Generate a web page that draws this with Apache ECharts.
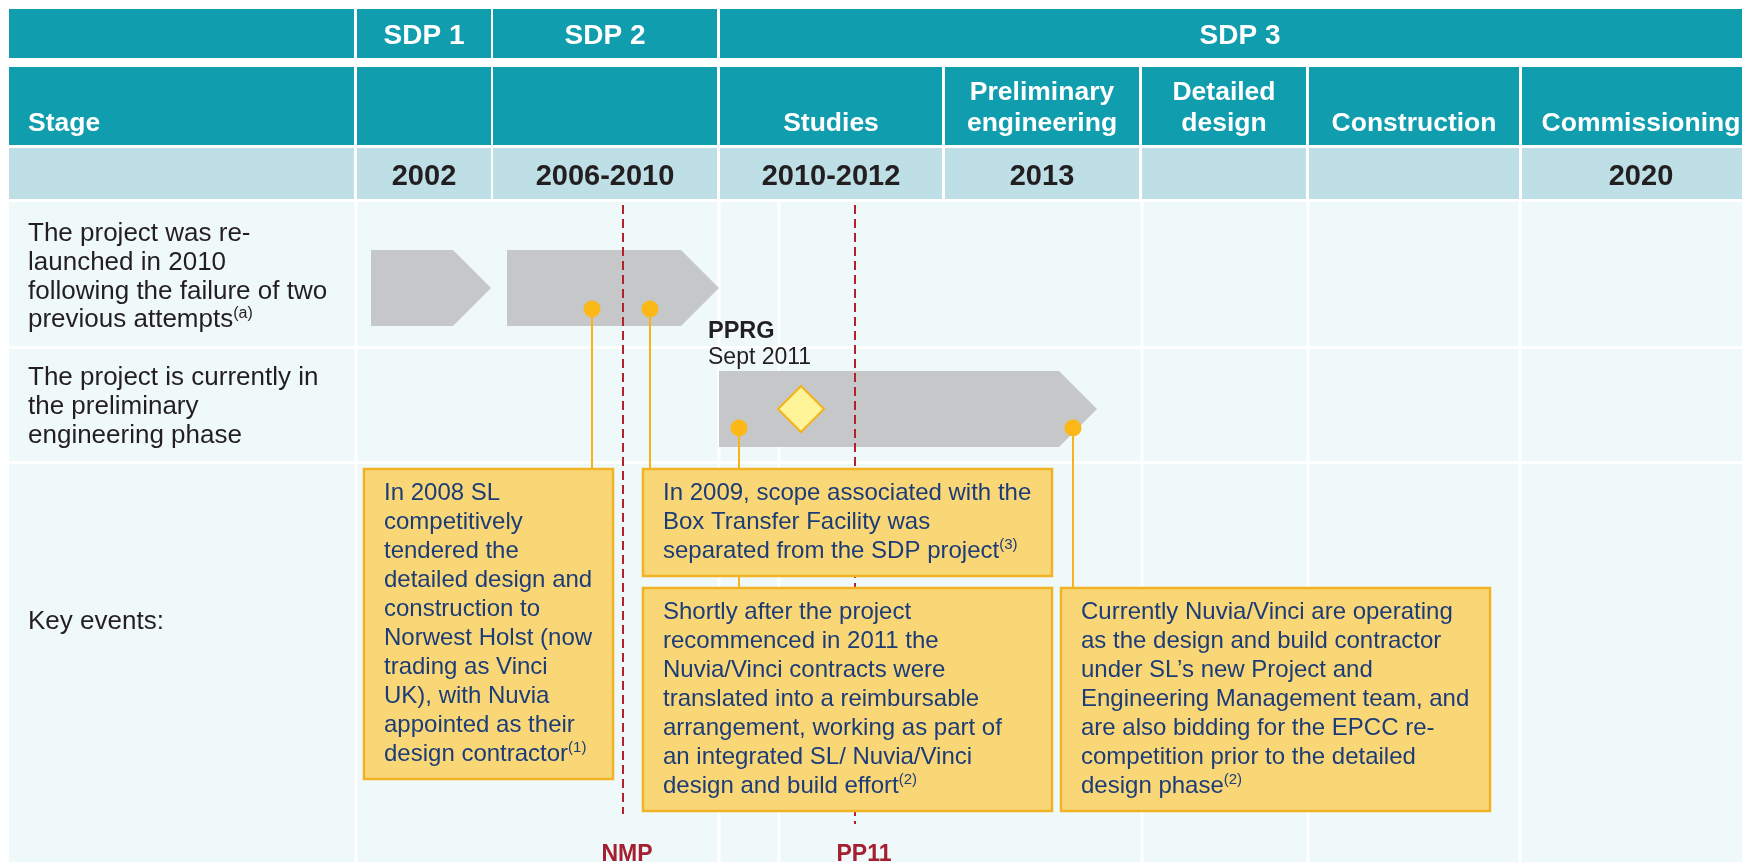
<!DOCTYPE html>
<html>
<head>
<meta charset="utf-8">
<script src="https://cdn.jsdelivr.net/npm/echarts@6/dist/echarts.min.js"></script>
<style>
    html, body { margin: 0; padding: 0; background: #fff; }
    #chart { width: 1742px; height: 862px; }
</style>
</head>
<body>
<div id="chart"></div>
<script>
var labelSpan = [9, 354];

var sdpNames = ['SDP 1', 'SDP 2', 'SDP 3'];
var sdpSpans = [[357, 491], [493, 717], [720, 1760]];

var stageNames = ['', '', 'Studies', 'Preliminary\nengineering', 'Detailed\ndesign', 'Construction', 'Commissioning'];
var stageSpans = [[357, 491], [493, 717], [720, 942], [945, 1139], [1142, 1306], [1309, 1519], [1522, 1760]];
var stageYears = ['2002', '2006-2010', '2010-2012', '2013', '', '', '2020'];

var headerRows = [[9, 58], [67, 145], [148, 199]];
var bodyRows = [[202, 346], [349, 461], [464, 870]];
var bodyDividers = [356, 719, 779, 1142, 1308, 1520];

var rowLabels = [
    'The project was re-\nlaunched in 2010\nfollowing the failure of two\nprevious attempts{sup|(a)}',
    'The project is currently in\nthe preliminary\nengineering phase',
    'Key events:'
];
var rowLabelY = [277, 407, 622];

// grey phase chevrons
var phaseStart = [371, 507, 719];
var phaseEnd = [491, 719, 1097];
var phaseY = [288, 288, 409];

// review gates (dashed)
var gateNames = ['NMP', 'PP11'];
var gateX = [623, 855];
var gateTop = [205, 205];
var gateBottom = [814, 824];
var gateLabelX = [627, 864];

// PPRG milestone
var milestoneName = 'PPRG';
var milestoneDate = 'Sept 2011';
var milestoneX = [801];
var milestoneY = [409];
var milestoneLabelX = [708];
var milestoneLabelY = [319];

// key events: dot on the timeline -> callout box
var eventX = [592, 650, 739, 1073];
var eventY = [309, 309, 428, 428];
var eventBox = [0, 1, 2, 3];

var calloutLeft = [364, 643, 643, 1061];
var calloutRight = [613, 1052, 1052, 1490];
var calloutTop = [469, 469, 588, 588];
var calloutBottom = [779, 576, 811, 811];
var calloutTexts = [
    'In 2008 SL\ncompetitively\ntendered the\ndetailed design and\nconstruction to\nNorwest Holst (now\ntrading as Vinci\nUK), with Nuvia\nappointed as their\ndesign contractor{sup|(1)}',
    'In 2009, scope associated with the\nBox Transfer Facility was\nseparated from the SDP project{sup|(3)}',
    'Shortly after the project\nrecommenced in 2011 the\nNuvia/Vinci contracts were\ntranslated into a reimbursable\narrangement, working as part of\nan integrated SL/ Nuvia/Vinci\ndesign and build effort{sup|(2)}',
    'Currently Nuvia/Vinci are operating\nas the design and build contractor\nunder SL\u2019s new Project and\nEngineering Management team, and\nare also bidding for the EPCC re-\ncompetition prior to the detailed\ndesign phase{sup|(2)}'
];

var FONT = '"Liberation Sans", Arial, sans-serif';
var TEAL = '#109dae';

// build the header table from the arrays above
var headerCells = [], headerTexts = [], headerKinds = [];
function addHeaderRow(row, leftText, leftKind, spans, texts, kind) {
    headerCells.push([labelSpan[0], labelSpan[1], row[0], row[1]]);
    headerTexts.push(leftText);
    headerKinds.push(leftKind);
    spans.forEach(function (s, i) {
        headerCells.push([s[0], s[1], row[0], row[1]]);
        headerTexts.push(texts[i]);
        headerKinds.push(kind);
    });
}
addHeaderRow(headerRows[0], '', 'sdp', sdpSpans, sdpNames, 'sdp');
addHeaderRow(headerRows[1], 'Stage', 'stageLeft', stageSpans, stageNames, 'stage');
addHeaderRow(headerRows[2], '', 'year', stageSpans, stageYears, 'year');

function rectOf(api, x0, x1, y0, y1) {
    var a = api.coord([x0, y0]);
    var b = api.coord([x1, y1]);
    return {
        x: Math.min(a[0], b[0]),
        y: Math.min(a[1], b[1]),
        width: Math.abs(b[0] - a[0]),
        height: Math.abs(b[1] - a[1])
    };
}

function renderHeader(params, api) {
    var r = rectOf(api, api.value(0), api.value(1), api.value(2), api.value(3));
    var kind = headerKinds[params.dataIndex];
    var txt = headerTexts[params.dataIndex];
    var children = [{type: 'rect', shape: r, style: {fill: kind === 'year' ? '#bddfe5' : TEAL}}];
    if (txt) {
        var st = {text: txt, fontFamily: FONT, fontWeight: 'bold', fill: '#ffffff'};
        var t = {type: 'text', style: st};
        if (kind === 'sdp') {
            t.x = r.x + r.width / 2;
            t.y = r.y + r.height / 2 + 3;
            st.fontSize = 28;
            st.align = 'center';
            st.verticalAlign = 'middle';
        } else if (kind === 'year') {
            t.x = r.x + r.width / 2;
            t.y = r.y + r.height / 2 + 3;
            st.fontSize = 29;
            st.fill = '#231f20';
            st.align = 'center';
            st.verticalAlign = 'middle';
        } else {
            t.x = kind === 'stageLeft' ? r.x + 19 : r.x + r.width / 2;
            t.y = r.y + r.height - 6;
            st.fontSize = 26.5;
            st.lineHeight = 31;
            st.align = kind === 'stageLeft' ? 'left' : 'center';
            st.verticalAlign = 'bottom';
        }
        children.push(t);
    }
    return {type: 'group', children: children};
}

function renderBody(params, api) {
    var r = rectOf(api, api.value(0), api.value(1), api.value(2), api.value(3));
    var p = api.coord([labelSpan[0], rowLabelY[params.dataIndex]]);
    return {
        type: 'group',
        children: [
            {type: 'rect', shape: r, style: {fill: '#f0f9f9'}},
            {
                type: 'text', x: p[0] + 19, y: p[1],
                style: {
                    text: rowLabels[params.dataIndex],
                    fontFamily: FONT, fontSize: 26, lineHeight: 28.7, fill: '#231f20',
                    align: 'left', verticalAlign: 'middle',
                    rich: {sup: {fontFamily: FONT, fontSize: 16, lineHeight: 20, fill: '#231f20', verticalAlign: 'top'}}
                }
            }
        ]
    };
}

function renderDivider(params, api) {
    var a = api.coord([api.value(0), bodyRows[0][0]]);
    var b = api.coord([api.value(0), bodyRows[bodyRows.length - 1][1]]);
    return {type: 'line', shape: {x1: a[0], y1: a[1], x2: b[0], y2: b[1]}, style: {stroke: '#ffffff', lineWidth: 3}};
}

function renderPhase(params, api) {
    var a = api.coord([api.value(0), api.value(2)]);
    var b = api.coord([api.value(1), api.value(2)]);
    var half = api.size([0, 38])[1];
    return {
        type: 'polygon',
        shape: {points: [
            [a[0], a[1] - half], [b[0] - half, a[1] - half], [b[0], a[1]],
            [b[0] - half, a[1] + half], [a[0], a[1] + half]
        ]},
        style: {fill: '#c6c7c9'}
    };
}

function renderGate(params, api) {
    var a = api.coord([api.value(0), api.value(1)]);
    var b = api.coord([api.value(0), api.value(2)]);
    var lab = api.coord([api.value(3), 855]);
    return {
        type: 'group',
        children: [
            {type: 'line', shape: {x1: a[0], y1: a[1], x2: b[0], y2: b[1]},
                style: {stroke: '#b3202e', lineWidth: 2, lineDash: [9, 5]}},
            {type: 'text', x: lab[0], y: lab[1],
                style: {text: gateNames[params.dataIndex], fontFamily: FONT, fontWeight: 'bold', fontSize: 23,
                    fill: '#a41f2f', align: 'center', verticalAlign: 'middle'}}
        ]
    };
}

function renderConnector(params, api) {
    var box = eventBox[params.dataIndex];
    var a = api.coord([api.value(0), api.value(1)]);
    var b = api.coord([api.value(0), calloutTop[box]]);
    return {type: 'line', shape: {x1: a[0], y1: a[1], x2: b[0], y2: b[1]}, style: {stroke: '#f6b41a', lineWidth: 2}};
}

function renderCallout(params, api) {
    var r = rectOf(api, api.value(0), api.value(1), api.value(2), api.value(3));
    return {
        type: 'group',
        children: [
            {type: 'rect', shape: r, style: {fill: '#f9d777', stroke: '#f1b226', lineWidth: 2.5}},
            {
                type: 'text', x: r.x + 20, y: r.y + 10,
                style: {
                    text: calloutTexts[params.dataIndex],
                    fontFamily: FONT, fontSize: 24, lineHeight: 29, fill: '#1c3c78',
                    align: 'left', verticalAlign: 'top',
                    rich: {sup: {fontFamily: FONT, fontSize: 15, lineHeight: 19, fill: '#1c3c78', verticalAlign: 'top'}}
                }
            }
        ]
    };
}

function renderDot(params, api) {
    var c = api.coord([api.value(0), api.value(1)]);
    return {type: 'circle', shape: {cx: c[0], cy: c[1], r: 8.5}, style: {fill: '#fbb817'}};
}

function renderMilestone(params, api) {
    var c = api.coord([api.value(0), api.value(1)]);
    var l = api.coord([api.value(2), api.value(3)]);
    var h = 23;
    return {
        type: 'group',
        children: [
            {type: 'polygon', shape: {points: [[c[0], c[1] - h], [c[0] + h, c[1]], [c[0], c[1] + h], [c[0] - h, c[1]]]},
                style: {fill: '#fff497', stroke: '#f5b21b', lineWidth: 2}},
            {type: 'text', x: l[0], y: l[1] + 1,
                style: {text: milestoneName, fontFamily: FONT, fontWeight: 'bold', fontSize: 23.5, fill: '#231f20',
                    align: 'left', verticalAlign: 'top'}},
            {type: 'text', x: l[0], y: l[1] + 27,
                style: {text: milestoneDate, fontFamily: FONT, fontSize: 23, fill: '#231f20',
                    align: 'left', verticalAlign: 'top'}}
        ]
    };
}

var chart = echarts.init(document.getElementById('chart'));

chart.setOption({
    animation: false,
    backgroundColor: '#ffffff',
    grid: {left: 0, right: 0, top: 0, bottom: 0},
    xAxis: {type: 'value', min: 0, max: 1742, show: false},
    yAxis: {type: 'value', min: 0, max: 862, inverse: true, show: false},
    series: [
        {type: 'custom', name: 'header', z: 1, renderItem: renderHeader, data: headerCells},
        {type: 'custom', name: 'body', z: 1,
            renderItem: renderBody,
            data: bodyRows.map(function (r) { return [labelSpan[0], 1760, r[0], r[1]]; })},
        {type: 'custom', name: 'dividers', z: 2, renderItem: renderDivider,
            data: bodyDividers.map(function (x) { return [x]; })},
        {type: 'custom', name: 'phases', z: 3, renderItem: renderPhase,
            data: phaseStart.map(function (s, i) { return [s, phaseEnd[i], phaseY[i]]; })},
        {type: 'custom', name: 'gates', z: 4, renderItem: renderGate,
            data: gateX.map(function (x, i) { return [x, gateTop[i], gateBottom[i], gateLabelX[i]]; })},
        {type: 'custom', name: 'connectors', z: 5, renderItem: renderConnector,
            data: eventX.map(function (x, i) { return [x, eventY[i]]; })},
        {type: 'custom', name: 'callouts', z: 6, renderItem: renderCallout,
            data: calloutLeft.map(function (x, i) { return [x, calloutRight[i], calloutTop[i], calloutBottom[i]]; })},
        {type: 'custom', name: 'events', z: 7, renderItem: renderDot,
            data: eventX.map(function (x, i) { return [x, eventY[i]]; })},
        {type: 'custom', name: 'milestone', z: 8, renderItem: renderMilestone,
            data: milestoneX.map(function (x, i) { return [x, milestoneY[i], milestoneLabelX[i], milestoneLabelY[i]]; })}
    ]
});
</script>
</body>
</html>
